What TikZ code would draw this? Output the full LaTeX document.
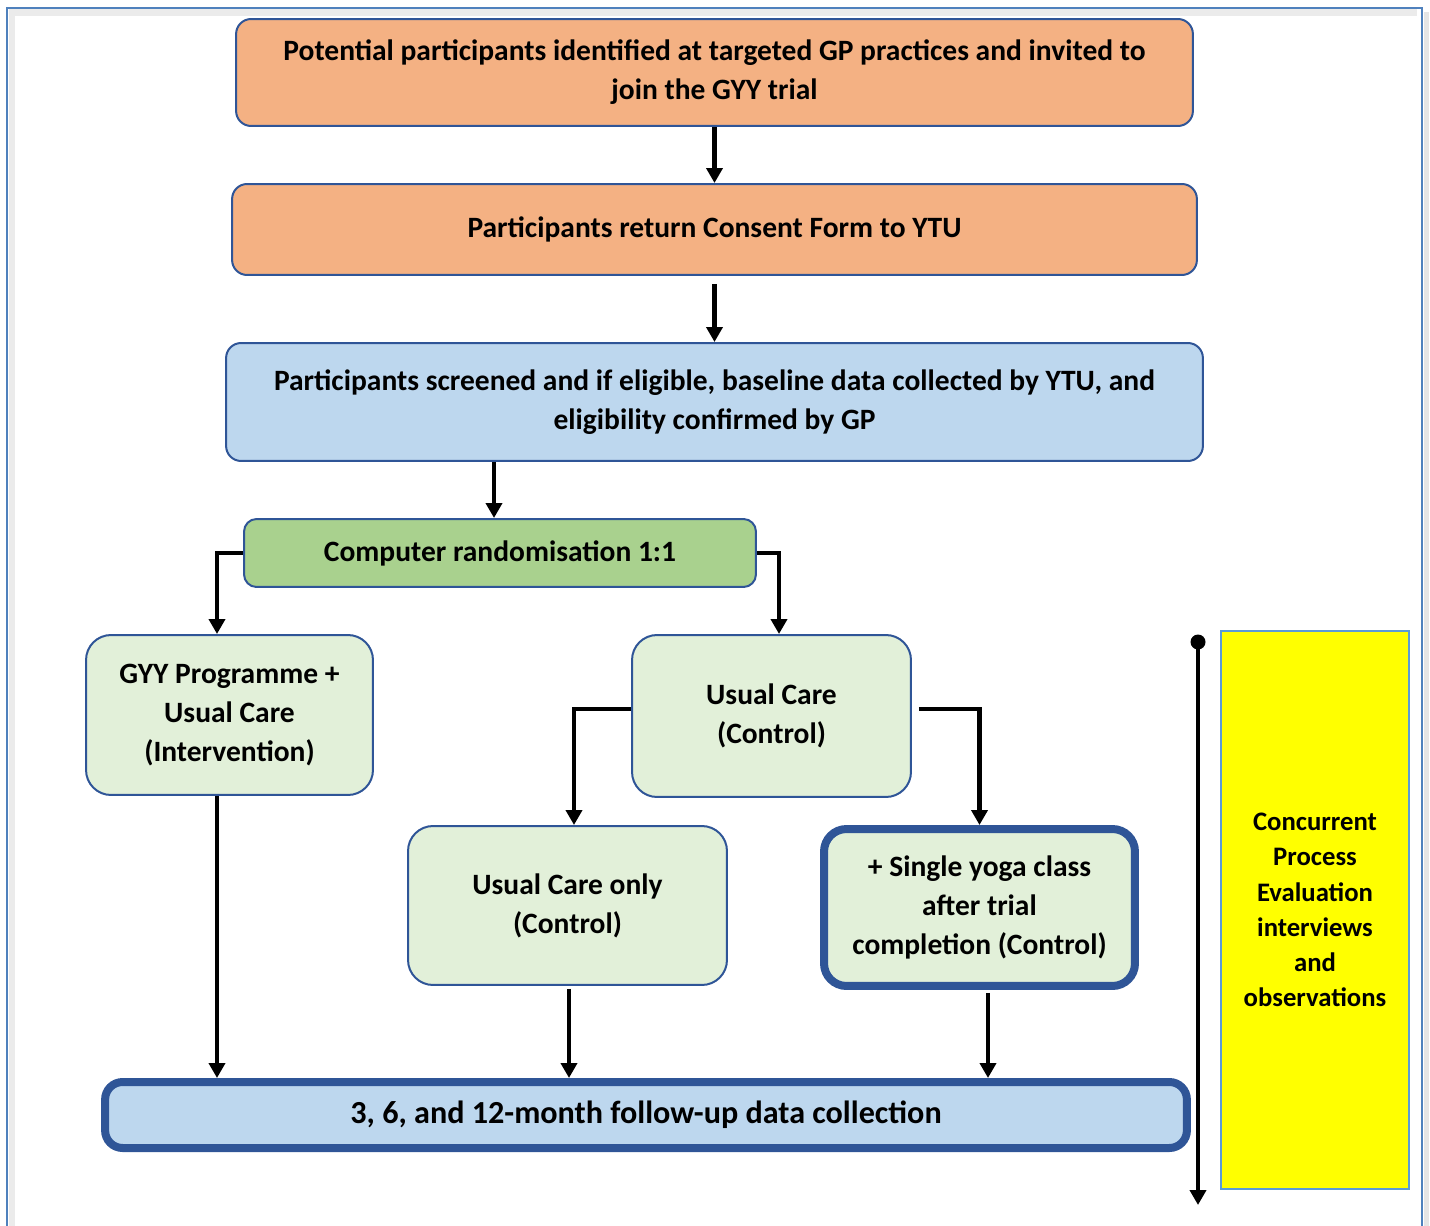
\documentclass[tikz,border=0pt]{standalone}
\usepackage{fontspec}
\setmainfont{Carlito}
\usetikzlibrary{calc,positioning,arrows.meta}
\definecolor{boxline}{HTML}{2F5597}
\definecolor{framec}{HTML}{4F81BD}
\definecolor{orangec}{HTML}{F4B183}
\definecolor{bluec}{HTML}{BDD7EE}
\definecolor{greenc}{HTML}{A9D18E}
\definecolor{lgreenc}{HTML}{E2F0D9}
\definecolor{yellowc}{HTML}{FFFF00}
\definecolor{yellowline}{HTML}{5B9BD5}
\tikzset{%
  box/.style = { draw=boxline, line width=0.04cm, rounded corners=0.3cm, align=center, inner sep=0pt,
                 font=\fontsize{16.8}{22.2}\selectfont\bfseries },
  bigbox/.style = { box, rounded corners=0.5cm },
  thickbox/.style = { box, line width=0.16cm, rounded corners=0.45cm },
  arr/.style = { -{Triangle[length=0.3cm,width=0.32cm]}, line width=0.085cm },
  sidebox/.style = { draw=yellowline, line width=0.04cm, fill=yellowc, align=center, inner sep=0pt,
                     font=\fontsize{15.2}{20}\selectfont\bfseries }
}
\begin{document}
\begin{tikzpicture}[x=0.02cm, y=-0.02cm]

  \useasboundingbox (0,0) rectangle (1430,1226);

  % page frame
  \draw[black!8, line width=0.14cm] (12,1240) -- (12,13) -- (1417,13);
  \draw[black!10, line width=0.1cm] (1426,12) -- (1426,1240);
  \draw[framec, line width=0.04cm] (7,1240) -- (7,8) -- (1422,8) -- (1422,1240);

  % recruitment
  \node[box, fill=orangec, minimum width=19.14cm, minimum height=2.14cm] (pot) at (714.5,72.5)
    {Potential participants identified at targeted GP practices and invited to\\ join the GYY trial};
  \node[box, fill=orangec, minimum width=19.3cm, minimum height=1.82cm] (consent) at (714.5,229.5)
    {Participants return Consent Form to YTU};
  \node[box, fill=bluec, minimum width=19.54cm, minimum height=2.36cm] (screen) at (714.5,402)
    {Participants screened and if eligible, baseline data collected by YTU, and\\ eligibility confirmed by GP};
  \node[box, fill=greenc, rounded corners=0.25cm, minimum width=10.24cm, minimum height=1.36cm] (rand) at (500,553)
    {Computer randomisation 1:1};

  % arms
  \node[bigbox, fill=lgreenc, minimum width=5.74cm, minimum height=3.2cm] (gyy) at (229.5,715)
    {GYY Programme +\\ Usual Care\\ (Intervention)};
  \node[bigbox, fill=lgreenc, minimum width=5.58cm, minimum height=3.24cm] (usual) at (771.5,716)
    {Usual Care\\ (Control)};
  \node[bigbox, fill=lgreenc, minimum width=6.38cm, minimum height=3.18cm] (ucOnly) at (567.5,905.5)
    {Usual Care only\\ (Control)};
  \node[thickbox, fill=lgreenc, minimum width=6.22cm, minimum height=3.14cm] (yoga) at (979.5,907.5)
    {+ Single yoga class\\ after trial\\ completion (Control)};

  % follow-up
  \node[thickbox, fill=bluec, rounded corners=0.35cm, minimum width=21.64cm, minimum height=1.32cm,
        font=\fontsize{18.3}{22}\selectfont\bfseries] (follow) at (646,1115)
    {3, 6, and 12-month follow-up data collection};

  \node[sidebox, minimum width=3.76cm, minimum height=11.18cm] (concur) at (1315,910)
    {Concurrent\\ Process\\ Evaluation\\ interviews\\ and\\ observations};

  % connectors
  \coordinate (randIn) at ($(rand.north)+(-6,0)$);
  \coordinate (gyyIn) at ($(gyy.north)+(-12.5,0)$);
  \coordinate (usualIn) at ($(usual.north)+(7.5,0)$);
  \coordinate (usualL) at ($(usual.west)+(0,-7)$);
  \coordinate (usualR) at ($(usual.east)+(7,-7)$);
  \coordinate (ucOnlyIn) at ($(ucOnly.north)+(6.5,0)$);
  \coordinate (gyyOut) at ($(gyy.south)+(-12.5,0)$);
  \coordinate (ucOut) at ($(ucOnly.south)+(1.5,3)$);
  \coordinate (yogaOut) at ($(yoga.south)+(8.5,3)$);

  \draw[arr] (pot) -- (consent);
  \draw[arr, shorten <=0.16cm] (consent) -- (screen);
  \draw[arr] (randIn |- screen.south) -- (randIn);
  \draw[arr] (rand.west) -| (gyyIn);
  \draw[arr] (rand.east) -| (usualIn);
  \draw[arr] (usualL) -| (ucOnlyIn);
  \draw[arr] (usualR) -| (yoga.north);
  \draw[arr] (gyyOut) -- (gyyOut |- follow.north);
  \draw[arr] (ucOut) -- (ucOut |- follow.north);
  \draw[arr] (yogaOut) -- (yogaOut |- follow.north);

  % process evaluation timeline
  \coordinate (tlTop) at (1198,642);
  \coordinate (tlEnd) at (1198,1205);
  \fill (tlTop) circle (0.15cm);
  \draw[arr] (tlTop) -- (tlEnd);

\end{tikzpicture}
\end{document}
